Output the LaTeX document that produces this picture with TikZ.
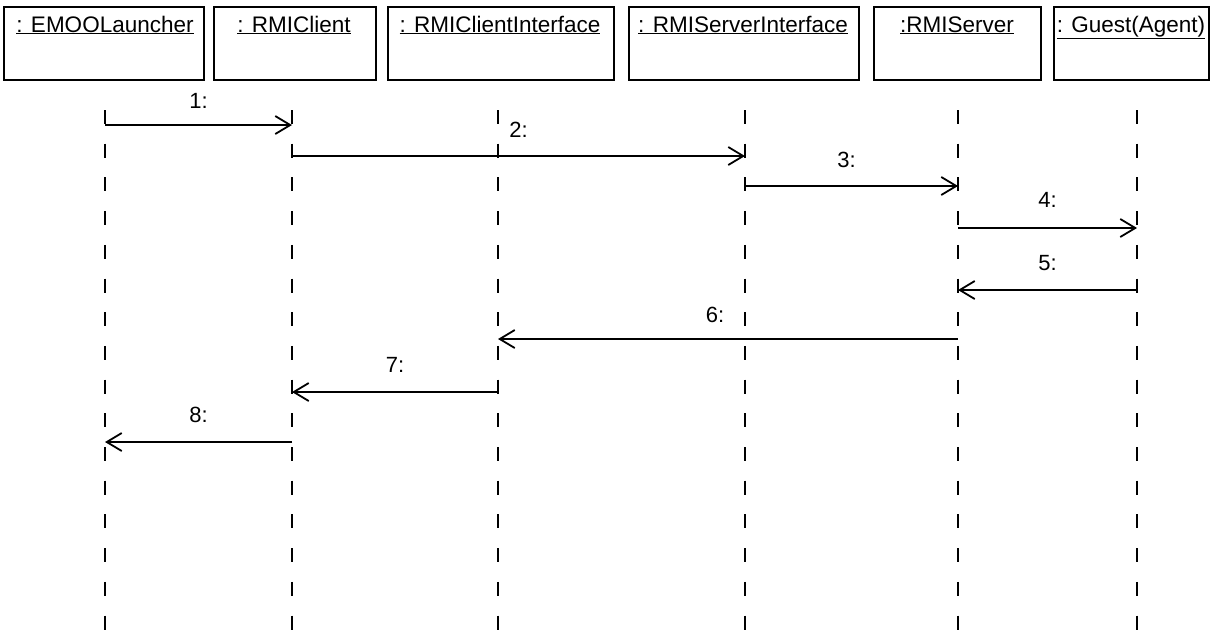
\documentclass[tikz,border=0pt]{standalone}
\usepackage{fontspec}
\setmainfont{Liberation Sans}
\usetikzlibrary{arrows.meta}
\begin{document}
\begin{tikzpicture}[x=1pt,y=-1pt,
  objbox/.style={draw=black, line width=1.8pt, anchor=north west, inner sep=0pt},
  objname/.style={anchor=base, inner sep=0pt, font=\fontsize{22.5}{26}\selectfont},
  lifeline/.style={line width=1.4pt, dash pattern=on 14pt off 19.7pt},
  msg/.style={line width=1.8pt, -{Straight Barb[length=15pt, width=18pt, line width=1.8pt]}},
  msglabel/.style={font=\fontsize{22}{26}\selectfont, inner sep=0pt}]
\useasboundingbox (0,0) rectangle (1213,630);

% object boxes
\node[objbox, minimum width=200pt, minimum height=73pt] (b1) at (3,6) {};
\node[objbox, minimum width=162pt, minimum height=73pt] (b2) at (213,6) {};
\node[objbox, minimum width=226pt, minimum height=73pt] (b3) at (387,6) {};
\node[objbox, minimum width=230pt, minimum height=73pt] (b4) at (628,6) {};
\node[objbox, minimum width=167pt, minimum height=73pt] (b5) at (873,6) {};
\node[objbox, minimum width=155pt, minimum height=73pt] (b6) at (1053,6) {};

% object names
\node[objname] (n1) at (105,32) {\underline{: EMOOLauncher}};
\node[objname] (n2) at (294,32) {\underline{: RMIClient}};
\node[objname] (n3) at (500,32) {\underline{: RMIClientInterface}};
\node[objname] (n4) at (743,32) {\underline{: RMIServerInterface}};
\node[objname] (n5) at (957,32) {\underline{:RMIServer}};
\node[objname] (n6) at (1131,32) {\underline{: Guest(Agent)}};

% lifeline anchors (top of each lifeline)
\coordinate (L1) at (105,110);
\coordinate (L2) at (292,110);
\coordinate (L3) at (498,110);
\coordinate (L4) at (745,110);
\coordinate (L5) at (958,110);
\coordinate (L6) at (1137,110);

\foreach \l in {L1,L2,L3,L4,L5,L6}
  \draw[lifeline] (\l) -- ([yshift=-520pt]\l);

% messages
\draw[msg] ([yshift=-15pt]L1) -- ([yshift=-15pt]L2)
  node[msglabel, midway, yshift=24pt] {1:};
\draw[msg] ([yshift=-46pt]L2) -- ([yshift=-46pt]L4)
  node[msglabel, midway, yshift=26pt] {2:};
\draw[msg] ([yshift=-76pt]L4) -- ([yshift=-76pt]L5)
  node[msglabel, midway, xshift=-5pt, yshift=26pt] {3:};
\draw[msg] ([yshift=-118pt]L5) -- ([yshift=-118pt]L6)
  node[msglabel, midway, yshift=28pt] {4:};
\draw[msg] ([yshift=-180pt]L6) -- ([yshift=-180pt]L5)
  node[msglabel, midway, yshift=27pt] {5:};
\draw[msg] ([yshift=-229pt]L5) -- ([yshift=-229pt]L3)
  node[msglabel, midway, xshift=-13pt, yshift=24pt] {6:};
\draw[msg] ([yshift=-282pt]L3) -- ([yshift=-282pt]L2)
  node[msglabel, midway, yshift=27pt] {7:};
\draw[msg] ([yshift=-332pt]L2) -- ([yshift=-332pt]L1)
  node[msglabel, midway, yshift=27pt] {8:};
\end{tikzpicture}
\end{document}
